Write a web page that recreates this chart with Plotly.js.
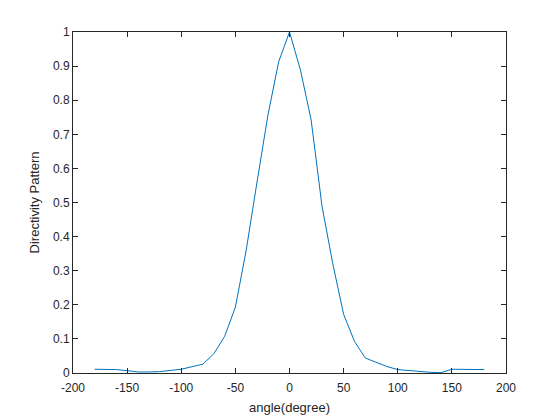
<!DOCTYPE html>
<html>
<head>
<meta charset="utf-8">
<script src="https://cdn.plot.ly/plotly-3.0.1.min.js"></script>
<style>
  html, body { margin: 0; padding: 0; background: #fff; }
  #chart { width: 560px; height: 420px; }
</style>
</head>
<body>
<div id="chart"></div>
<script>
// directivity pattern samples
const angles = [-180, -160, -150, -140, -130, -120, -100, -80, -70, -60, -50, -40, -30, -20, -10, 0,
  10, 20, 30, 40, 50, 60, 70, 80, 90, 100, 110, 120, 130, 140, 150, 180];
const pattern = [0.011, 0.010, 0.007, 0.003, 0.003, 0.004, 0.011, 0.026, 0.056, 0.107, 0.193, 0.36, 0.56, 0.755, 0.913, 1.0,
  0.89, 0.742, 0.49, 0.32, 0.172, 0.093, 0.044, 0.031, 0.019, 0.010, 0.007, 0.004, 0.002, 0.001, 0.011, 0.010];

const xTicks = [-200, -150, -100, -50, 0, 50, 100, 150, 200];
const yTicks = [0, 0.1, 0.2, 0.3, 0.4, 0.5, 0.6, 0.7, 0.8, 0.9, 1];

const axisColor = '#262626';
const font = { family: 'Liberation Sans, Arial, sans-serif', size: 12, color: axisColor };
const titleFont = { family: font.family, size: 13, color: axisColor };

const trace = {
  x: angles,
  y: pattern,
  type: 'scatter',
  mode: 'lines',
  line: { color: '#0072BD', width: 1 },
  hoverinfo: 'skip'
};

const axisBase = {
  showgrid: false,
  zeroline: false,
  showline: true,
  linecolor: axisColor,
  linewidth: 1,
  mirror: 'ticks',
  ticks: 'inside',
  ticklen: 5,
  tickcolor: axisColor,
  tickfont: font
};

const layout = {
  width: 560,
  height: 420,
  margin: { l: 73, r: 54, t: 32, b: 47 },
  paper_bgcolor: '#fff',
  plot_bgcolor: '#fff',
  showlegend: false,
  font: font,
  xaxis: Object.assign({}, axisBase, {
    range: [-200, 200],
    tickvals: xTicks,
    ticktext: xTicks.map(String),
    ticklabelstandoff: 4,
    title: { text: 'angle(degree)', font: titleFont, standoff: 8 }
  }),
  yaxis: Object.assign({}, axisBase, {
    range: [0, 1],
    tickvals: yTicks,
    ticktext: yTicks.map(String),
    title: { text: 'Directivity Pattern', font: titleFont, standoff: 10 }
  })
};

Plotly.newPlot('chart', [trace], layout, { displayModeBar: false, staticPlot: true });
</script>
</body>
</html>
